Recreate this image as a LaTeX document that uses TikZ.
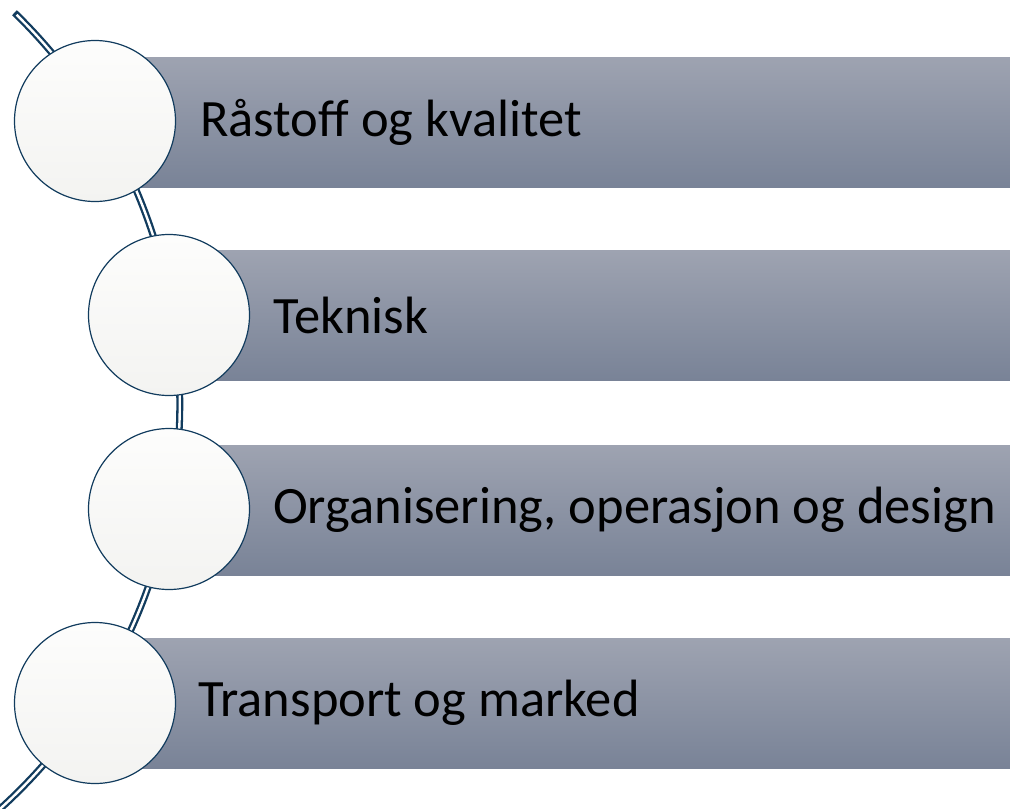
\documentclass[tikz,border=0pt]{standalone}
\usepackage{fontspec}
\setmainfont{Carlito}
\definecolor{navy}{RGB}{18,60,94}
\definecolor{bartop}{RGB}{158,163,177}
\definecolor{barbot}{RGB}{121,131,151}
\definecolor{circtop}{RGB}{253,253,252}
\definecolor{circbot}{RGB}{243,243,241}
\tikzset{
  barbox/.style={rectangle, minimum height=130pt, inner sep=0pt, anchor=west,
    top color=bartop, bottom color=barbot, draw=none},
  bubble/.style={circle, minimum size=161pt, inner sep=0pt, draw=navy, line width=1.2pt,
    top color=circtop, bottom color=circbot},
  label/.style={anchor=west, inner sep=0pt, font=\fontsize{52.5}{60}\selectfont, text=black}
}
\begin{document}
\begin{tikzpicture}[x=1pt,y=-1pt]
\useasboundingbox (0,0) rectangle (1010,809);
\clip (0,0) rectangle (1010,809);
% spine curve
\draw[draw=navy, line width=7pt] (-366,404) ++(-45.8:545.8) arc (-45.8:52:545.8);
\draw[draw=white, line width=2.4pt] (-366,404) ++(-45.5:545.8) arc (-45.5:52:545.8);
% bars
\node[barbox, minimum width=915pt] (b1) at (95,122) {};
\node[barbox, minimum width=841pt] (b2) at (169,315) {};
\node[barbox, minimum width=841pt] (b3) at (169,510) {};
\node[barbox, minimum width=915pt] (b4) at (95,703) {};
% circles
\node[bubble] (c1) at (95,121) {};
\node[bubble] (c2) at (169,315) {};
\node[bubble] (c3) at (169,509) {};
\node[bubble] (c4) at (95,703) {};
% labels
\node[label] (t1) at (200,122) {Råstoff og kvalitet};
\node[label] (t2) at (273,315) {Teknisk};
\node[label] (t3) at (273,510) {Organisering, operasjon og design};
\node[label] (t4) at (198,703) {Transport og marked};
\end{tikzpicture}
\end{document}
